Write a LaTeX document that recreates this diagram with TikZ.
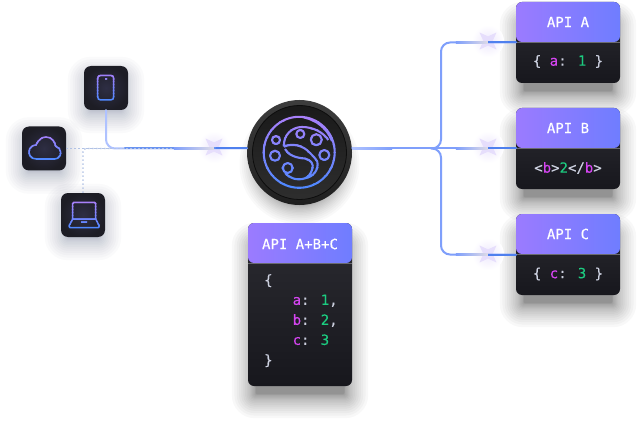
\documentclass[tikz,border=0pt]{standalone}
\usepackage{fontspec}
\usetikzlibrary{backgrounds,shapes.geometric}
\newfontfamily\cardfont[FakeBold=0.25]{DejaVu Sans Mono}

\definecolor{headL}{HTML}{9B7BFF}
\definecolor{headR}{HTML}{6F7DFF}
\definecolor{cardT}{HTML}{2C2C32}
\definecolor{cardB}{HTML}{17171D}
\definecolor{tileC}{HTML}{2E2E44}
\definecolor{tileE}{HTML}{1D1D25}
\definecolor{codeKey}{HTML}{D445F0}
\definecolor{codeNum}{HTML}{1CCB80}
\definecolor{codeMark}{HTML}{CDD1E0}
\definecolor{iconT}{HTML}{A880FA}
\definecolor{iconB}{HTML}{5088FF}
\definecolor{flowS}{HTML}{4F80EE}
\definecolor{flowM}{HTML}{7F9FFB}
\definecolor{flowP}{HTML}{AFC2FF}
\definecolor{flare}{HTML}{E6DEFC}

\newcommand{\kw}[1]{\textcolor{codeKey}{#1}}
\newcommand{\nm}[1]{\textcolor{codeNum}{#1}}

% line that turns from purple to blue from top to bottom
\newcommand{\gradline}[6]{%
  \foreach \s in {0,...,9}{
    \pgfmathsetmacro\mixval{100-100*\s/9}
    \begin{scope}
      \clip ({#1},{#2+(#4-#2)*\s/10}) rectangle ({#3},{#2+(#4-#2)*(\s+1)/10+0.3});
      \draw[draw=iconT!\mixval!iconB,line width=#5pt,line join=round] #6;
    \end{scope}
  }}
% name, drop, reach, look
\newcommand{\softshadow}[4]{%
  \foreach \g in {1,...,18}{
    \pgfmathsetmacro\grow{-8+#3*(\g/18)*(\g/18)}
    \pgfmathsetmacro\rad{max(2,\grow+7)}
    \fill[#4,rounded corners=\rad pt]
      ([shift={(-\grow,{#2-\grow})}]#1.north west) rectangle ([shift={(\grow,{#2+\grow})}]#1.south east);
  }}

\tikzset{
  apicard/.style={rectangle,rounded corners=6pt,minimum width=104pt,minimum height=#1,inner sep=0pt,
    top color=cardT,bottom color=cardB,
    path picture={
      \shade[left color=headL,right color=headR] (path picture bounding box.north west)
        rectangle ([yshift=-40pt]path picture bounding box.north east);
      \draw[line width=.8pt,draw=cardT!70!white] ([yshift=-40pt]path picture bounding box.north west)
        -- ([yshift=-40pt]path picture bounding box.north east);
    }},
  cardtitle/.style={text=white,inner sep=0pt,font=\cardfont\fontsize{14}{20}\selectfont},
  cardcode/.style={text=codeMark,inner sep=0pt,align=left,font=\cardfont\fontsize{14}{20}\selectfont},
  tile/.style={rectangle,rounded corners=7pt,minimum size=44pt,inner sep=0pt,inner color=tileC,outer color=tileE},
  flow/.style={line width=2pt,draw=flowM,line cap=round},
  dots/.style={line width=1.4pt,draw=black!25!iconB!40!white,dash pattern=on 1.4pt off 2.6pt},
  flarestar/.style={star,star points=4,star point ratio=2.6,rotate=45,minimum size=24pt,inner sep=0pt,fill=flare,draw=none},
  flareglow/.style={circle,minimum size=32pt,inner sep=0pt,inner color=flare!70!white,outer color=white},
  trail/.style={rectangle,minimum width=#1,minimum height=2pt,inner sep=0pt,left color=flowM,right color=flare!70!gray!60!white,anchor=east},
}

\begin{document}
\begin{tikzpicture}[x=1pt,y=-1pt]
\useasboundingbox (0,0) rectangle (639,422);

% cards
\node[apicard=81pt] (apiA) at (568,42.5) {};
\node[apicard=81pt] (apiB) at (568,148.5) {};
\node[apicard=81pt] (apiC) at (568,254.5) {};
\node[apicard=163pt] (apiSum) at (300,304.5) {};

\node[cardtitle] (apiAname) at (568,22) {API A};
\node[cardtitle] (apiBname) at (568,128) {API B};
\node[cardtitle] (apiCname) at (568,234) {API C};
\node[cardtitle] (apiSumname) at (300,244) {API A+B+C};
\node[cardcode] (apiAcode) at (568,61.5) {\{ \kw{a}: \nm{1} \}};
\node[cardcode] (apiBcode) at (568,168) {<\kw{b}>\nm{2}</\kw{b}>};
\node[cardcode] (apiCcode) at (568,274) {\{ \kw{c}: \nm{3} \}};
\node[cardcode,anchor=north west] (apiSumcode) at (264,274) {\{\\
\hspace{28.5pt}\kw{a}: \nm{1},\\
\hspace{28.5pt}\kw{b}: \nm{2},\\
\hspace{28.5pt}\kw{c}: \nm{3}\\
\}};

% sources
\node[tile] (phone) at (106,88) {};
\node[tile] (cloud) at (44,148.5) {};
\node[tile] (laptop) at (83,215) {};

% hub
\node[circle,minimum size=105pt,inner sep=0pt,top color=black!76,bottom color=black!88] (hub) at (299.5,152.5) {};
\node[circle,minimum size=94pt,inner sep=0pt,top color=black!90,bottom color=black!82,draw=black!95,line width=.8pt] (hubface) at (hub) {};
\coordinate (hubin) at (hub.west |- cloud);
\coordinate (hubout) at (hub.east |- cloud);

\begin{scope}[on background layer]
\fill[white] (0,0) rectangle (639,422);
\foreach \n in {apiA,apiB,apiC,apiSum}{\softshadow{\n}{16}{24}{black,opacity=.026}}
\foreach \n in {phone,cloud,laptop}{\softshadow{\n}{7}{24}{iconB!35!black!80,opacity=.028}}
\foreach \g in {1,...,18}{\fill[black,opacity=.022] ([yshift=-12pt]hub.center) circle ({40+20*(\g/18)*(\g/18)});}
\end{scope}

% flares
\node[flareglow] (flareL) at (214,147) {};
\node[flareglow] (flareA) at (488,41) {};
\node[flareglow] (flareB) at (488,147) {};
\node[flareglow] (flareC) at (488,254) {};
\foreach \n in {flareL,flareA,flareB,flareC}{\node[flarestar] at (\n) {};}

% connectors
\coordinate (fork) at (431,148.5);
\coordinate (busA) at (441,42.5);
\coordinate (busC) at (441,254.5);
\draw[flow,draw=flowP,rounded corners=9pt] (phone.south) |- (hubin);
\draw[flow,draw=flowS] (215,148.5) -- (hubin);
\draw[flow,draw=flowS!85!white] (125,148.5) -- (215,148.5);
\draw[dots] (cloud.east) -- (210,148.5);
\draw[dots,rounded corners=3pt] (laptop.north) |- (110,148.5);

\draw[flow,draw=flowM,rounded corners=9pt] (fork) -| (busA) -- (apiA.west);
\draw[flow,draw=flowM,rounded corners=9pt] (fork) -| (busC) -- (apiC.west);
\draw[flow,draw=flowM] (hubout) -- (apiB.west);
\node[rectangle,minimum width=40pt,minimum height=2pt,inner sep=0pt,left color=flowP,right color=flowM] (stem) at (372,148.5) {};
\draw[flow,draw=flowS] (flareA |- apiA) -- (apiA.west);
\draw[flow,draw=flowS] (flareB |- apiB) -- (apiB.west);
\draw[flow,draw=flowS] (flareC |- apiC) -- (apiC.west);
\node[trail=32pt] at (flareA |- apiA) {};
\node[trail=32pt] at (flareB |- apiB) {};
\node[trail=32pt] at (flareC |- apiC) {};
\node[trail=40pt] at (flareL |- cloud) {};

% icons
\gradline{95}{73}{117}{102}{1.5}{[rounded corners=3pt] (97.7,75.3) rectangle (113.7,100) [sharp corners] (105,78.8) -- (107,78.8)}
\gradline{27}{135}{63}{161}{1.6}{(36.5,159) .. controls (31,159) and (29,155) .. (29,152) .. controls (29,147.5) and (33,145) .. (36,145) .. controls (38,140) and (42,137) .. (46,137) .. controls (52,137) and (55,142) .. (55.5,146) .. controls (58.5,147) and (60.7,149.5) .. (60.7,152.5) .. controls (60.7,156) and (58,159) .. (54.5,159) -- cycle}
\gradline{67}{200}{101}{230}{1.5}{(72.7,219) -- (72.7,203.5) -- (73.9,202.3) -- (94.5,202.3) -- (95.7,203.5) -- (95.7,219) (72.7,219) -- (95.7,219) -- (99.3,226) -- (98.3,227.7) -- (70,227.7) -- (69,226) -- cycle (81,222) -- (87,222)}

% hub logo
\gradline{260}{114}{339}{191}{2.1}{(299.2,152.3) circle (35.5)
 (276,140) circle (4) (275,155.7) circle (5) (287.7,168) circle (5)
 (300.3,134) circle (4) (316.3,139.7) circle (5.5) (324.3,155) circle (5)
 (284,146.7) .. controls (283,135) and (292,127) .. (302,127) .. controls (313,127) and (323,132) .. (328.3,140)
 (284,146.7) .. controls (292,143) and (303,145) .. (310,153) .. controls (313,156) and (316,159) .. (317.3,161.7)
 (285,149) .. controls (288,155) and (296,158) .. (305,158.5) .. controls (311,160) and (314,164) .. (312.3,169) .. controls (311,174) and (308,177) .. (305,178.3)
 (317.3,161.7) .. controls (319,170) and (313,177) .. (305,178.3) .. controls (297,181) and (289,178) .. (285,173)
 (304,117.5) .. controls (316,120) and (327,128) .. (332,141)}
\end{tikzpicture}
\end{document}
